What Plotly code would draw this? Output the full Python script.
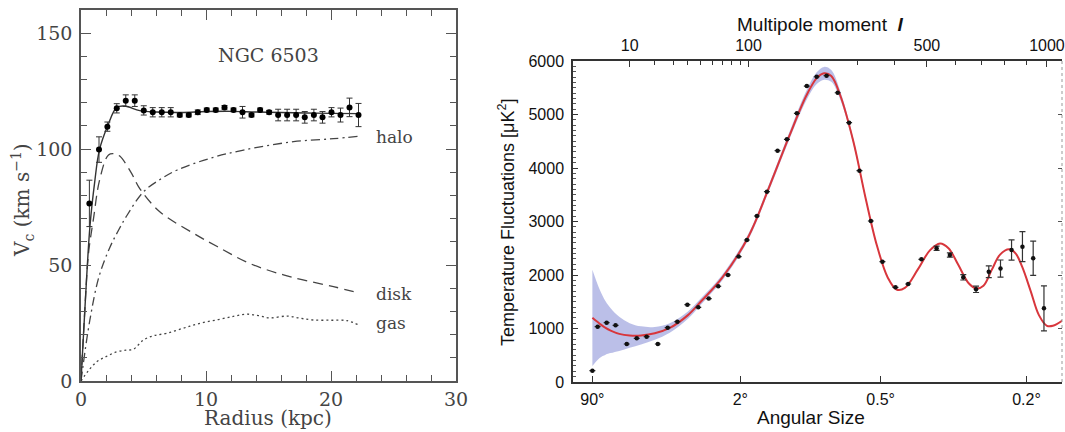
import numpy as np
import plotly.graph_objects as go

W, H = 1065, 432

# ---------------- Left panel: NGC 6503 rotation curve ----------------
radius_pts = [0.67, 1.44, 2.11, 2.86, 3.58, 4.30, 5.02, 5.74, 6.46, 7.18, 7.90, 8.62, 9.34,
              10.06, 10.78, 11.48, 12.20, 12.92, 13.64, 14.33, 15.05, 15.77, 16.49, 17.21,
              17.90, 18.63, 19.32, 20.04, 20.76, 21.48, 22.20]
vel_pts = [76.6, 99.8, 109.7, 117.6, 120.9, 120.9, 116.7, 115.9, 115.9, 115.9, 114.7, 114.7,
           115.9, 116.9, 116.9, 118.0, 116.9, 115.9, 114.7, 116.9, 115.9, 114.7, 114.7, 114.7,
           113.7, 114.7, 113.7, 115.9, 114.7, 118.0, 114.7]
vel_err = [10, 5.5, 2, 2, 2.5, 2.5, 2, 2, 2, 2, 0.8, 0.8, 1, 0.8, 0.8, 0.8, 0.8, 2.5, 0.8, 0.8,
           0.8, 2.5, 2.5, 2.5, 2.5, 2.5, 2.5, 2, 3, 4, 5]

r_total = [0, 0.35, 0.72, 1.1, 1.47, 2.13, 2.86, 3.5, 4.7, 6, 8, 10, 12, 14, 16, 18, 20, 22.2]
v_total = [0, 35, 67, 86, 99.6, 110, 118, 118.6, 116.6, 116, 115.8, 116.2, 116.3, 116, 115.8,
           115.6, 115.4, 115.3]

r_disk = [0, 0.3, 0.6, 1.0, 1.5, 2.2, 2.7, 3.1, 4.0, 4.7, 6.3, 9.0, 10.9, 13.5, 16.7, 20.2, 22.2]
v_disk = [0, 30, 55, 70, 87, 97.5, 98, 97, 90, 83, 73, 63.7, 58, 50.7, 45, 40.7, 38]

r_halo = [0, 0.7, 1.44, 2.3, 3.0, 3.7, 5.0, 6.5, 7.7, 10.3, 13, 17, 20.2, 22.2]
v_halo = [0, 26, 45, 57.5, 65, 71.6, 81.6, 87.5, 91, 96, 99.6, 103.2, 104.5, 105.5]

r_gas = [0, 0.6, 1.26, 2.0, 2.86, 3.6, 4.19, 4.99, 5.8, 6.86, 8.2, 9.53, 11.0, 12.3, 13.3,
         14.2, 15.1, 16.5, 17.6, 18.6, 20.0, 21.3, 22.2]
v_gas = [0, 4.5, 8.3, 10.5, 12.6, 13.3, 13.7, 17.7, 19.5, 20.6, 22.8, 24.9, 26.5, 28, 28.8,
         28.2, 27.2, 28, 27, 26.3, 26.2, 26, 24.2]

# ---------------- Right panel: CMB power spectrum ----------------
ell_pts = [2, 2.7, 4.2, 6.1, 9.1, 12.4, 16.3, 21.5, 26.8, 32.7, 39.6, 48, 57, 66, 76, 88, 98,
           111, 125, 141, 156, 173, 191, 210, 230, 254, 280, 305, 334, 365, 402, 440, 482,
           533, 580, 630, 680, 732, 782, 831, 881, 932, 985]
cl_pts = [211, 1034, 1108, 1059, 710, 816, 847, 710, 1015, 1127, 1445, 1396, 1560, 1790, 2000,
          2344, 2654, 3103, 3557, 4323, 4536, 5022, 5532, 5706, 5725, 5407, 4847, 3950, 3009,
          2249, 1770, 1832, 2293, 2499, 2374, 1957, 1733, 2061, 2120, 2467, 2529, 2312, 1377]
cl_err = [0, 0, 0, 0, 0, 0, 0, 0, 0, 0, 0, 0, 0, 0, 0, 0, 0, 0, 0, 0, 0, 0, 0, 0, 0, 0, 0, 0,
          0, 0, 0, 0, 0, 40, 40, 50, 60, 110, 160, 190, 280, 320, 420]

ell_model = [2, 3, 4, 5, 7, 10, 14, 20, 28, 40, 50, 70, 100, 130, 160, 190, 210, 225, 240, 260,
             290, 320, 350, 380, 405, 430, 470, 510, 545, 575, 610, 650, 680, 710, 745, 780,
             820, 850, 880, 920, 960, 1000, 1030, 1080]
cl_model = [1200, 1090, 1010, 960, 900, 870, 870, 910, 1010, 1250, 1500, 1950, 2720, 3700, 4600,
            5350, 5680, 5770, 5720, 5350, 4500, 3450, 2550, 1950, 1730, 1760, 2100, 2460, 2590,
            2500, 2200, 1850, 1750, 1800, 2100, 2380, 2480, 2400, 2150, 1700, 1250, 1050, 1050,
            1150]
band_halfwidth = [900, 640, 500, 420, 320, 230, 170, 120, 90, 70, 60, 55, 55, 60, 70, 90, 110,
                  120, 110, 80, 50, 30, 20] + [0] * 21

angle_labels_deg = [90, 2, 0.5, 0.2]
angle_ticktext = ["90°", "2°", "0.5°", "0.2°"]
top_ell_major = [10, 100, 500, 1000]
top_ell_minor = [20, 30, 40, 50, 60, 70, 80, 90, 200, 300, 400, 600, 700, 800, 900]


def ell_axis(l):
    """Horizontal scale of the CMB plot: linear in ell**0.4."""
    return np.asarray(l, dtype=float) ** 0.4


U_RANGE = [0.70, 16.33]

fig = go.Figure()

GRAY = "#444"
fig.add_trace(go.Scatter(x=r_gas, y=v_gas, mode="lines",
                         line=dict(color=GRAY, width=1.3, dash="2px,3px", shape="spline"),
                         xaxis="x", yaxis="y"))
fig.add_trace(go.Scatter(x=r_halo, y=v_halo, mode="lines",
                         line=dict(color=GRAY, width=1.3, dash="9px,4px,2px,4px", shape="spline"),
                         xaxis="x", yaxis="y"))
fig.add_trace(go.Scatter(x=r_disk, y=v_disk, mode="lines",
                         line=dict(color=GRAY, width=1.3, dash="10px,6px", shape="spline"),
                         xaxis="x", yaxis="y"))
fig.add_trace(go.Scatter(x=r_total, y=v_total, mode="lines",
                         line=dict(color="#333", width=1.4, shape="spline"), xaxis="x", yaxis="y"))
fig.add_trace(go.Scatter(x=radius_pts, y=vel_pts, mode="markers",
                         marker=dict(color="black", size=6),
                         error_y=dict(type="data", array=vel_err, color="#333", thickness=1, width=3),
                         xaxis="x", yaxis="y"))

u_model = ell_axis(ell_model)
cl_model_arr = np.array(cl_model, dtype=float)
hw = np.array(band_halfwidth, dtype=float)
fig.add_trace(go.Scatter(x=u_model, y=cl_model_arr - hw, mode="lines",
                         line=dict(width=0, shape="spline"),
                         xaxis="x2", yaxis="y2", hoverinfo="skip"))
fig.add_trace(go.Scatter(x=u_model, y=cl_model_arr + hw, mode="lines",
                         line=dict(width=0, shape="spline"),
                         fill="tonexty", fillcolor="rgba(120,128,210,0.5)",
                         xaxis="x2", yaxis="y2", hoverinfo="skip"))
fig.add_trace(go.Scatter(x=u_model, y=cl_model, mode="lines",
                         line=dict(color="#d8363c", width=2, shape="spline"),
                         xaxis="x2", yaxis="y2"))
fig.add_trace(go.Scatter(x=ell_axis(ell_pts), y=cl_pts, mode="markers",
                         marker=dict(color="#111", size=4.5),
                         error_y=dict(type="data", array=cl_err, color="#333", thickness=1.2, width=3),
                         xaxis="x2", yaxis="y2"))
# invisible anchors for overlay axes
fig.add_trace(go.Scatter(x=ell_axis([10, 1000]), y=[0, 0], mode="markers", marker=dict(opacity=0),
                         xaxis="x3", yaxis="y2", hoverinfo="skip"))
fig.add_trace(go.Scatter(x=ell_axis([10, 1000]), y=[0, 0], mode="markers", marker=dict(opacity=0),
                         xaxis="x2", yaxis="y3", hoverinfo="skip"))
fig.add_trace(go.Scatter(x=[0, 30], y=[0, 0], mode="markers", marker=dict(opacity=0),
                         xaxis="x4", yaxis="y4", hoverinfo="skip"))

serif = dict(family="DejaVu Serif", size=19, color="#444")
sans = dict(family="Liberation Sans", size=16, color="#111")

left_common = dict(showline=True, linecolor="#555", linewidth=1.5,
                   ticks="inside", ticklen=10, tickwidth=1.2, tickcolor="#555",
                   showgrid=False, zeroline=False, tickfont=serif, automargin=False)
left_x = dict(range=[0, 30], tick0=0, dtick=10,
              minor=dict(dtick=2, ticks="inside", ticklen=6, tickwidth=1.2, tickcolor="#555"))
left_y = dict(range=[0, 160], tick0=0, dtick=50,
              minor=dict(dtick=10, ticks="inside", ticklen=6, tickwidth=1.2, tickcolor="#555"))
LX = [81 / W, 456 / W]
LY = [1 - 381 / H, 1 - 10 / H]

fig.update_layout(
    width=W, height=H, autosize=False,
    margin=dict(l=0, r=0, t=0, b=0, autoexpand=False),
    paper_bgcolor="white", plot_bgcolor="white",
    showlegend=False,
    xaxis=dict(domain=LX, anchor="y", ticklabelstandoff=0, **left_x, **left_common),
    yaxis=dict(domain=LY, anchor="x", ticklabelstandoff=3, **left_y, **left_common),
    xaxis4=dict(overlaying="x", anchor="y", side="top", showticklabels=False,
                **left_x, **left_common),
    yaxis4=dict(overlaying="y", anchor="x", side="right", showticklabels=False,
                **left_y, **left_common),
    xaxis2=dict(domain=[573 / W, 1062 / W], range=U_RANGE, anchor="y2",
                tickmode="array", tickvals=ell_axis([180 / a for a in angle_labels_deg]),
                ticktext=angle_ticktext, ticks="inside", ticklen=6, tickwidth=1.2, tickcolor="#333",
                showline=True, linecolor="#333", linewidth=1.5, showgrid=False, zeroline=False,
                tickfont=sans, automargin=False, ticklabelstandoff=2),
    xaxis3=dict(overlaying="x2", anchor="y2", side="top", range=U_RANGE,
                tickmode="array", tickvals=ell_axis(top_ell_major),
                ticktext=[str(v) for v in top_ell_major], ticks="inside", ticklen=6, tickwidth=1.2,
                tickcolor="#333",
                minor=dict(tickmode="array", tickvals=ell_axis(top_ell_minor), ticks="inside",
                           ticklen=4, tickcolor="#333"),
                showline=True, linecolor="#333", linewidth=1.5, showgrid=False, zeroline=False,
                tickfont=sans, automargin=False, ticklabelstandoff=2),
    yaxis2=dict(domain=[1 - 382 / H, 1 - 61 / H], range=[0, 6000], anchor="x2", tick0=0, dtick=1000,
                ticks="inside", ticklen=5, tickwidth=1.2, tickcolor="#333",
                minor=dict(dtick=100, ticks="inside", ticklen=3, tickcolor="#555"),
                showline=True, linecolor="#333", linewidth=1.5, showgrid=False, zeroline=False,
                tickfont=sans, ticklabelstandoff=4, automargin=False),
    yaxis3=dict(overlaying="y2", anchor="x2", side="right", range=[0, 6000],
                tickmode="array", tickvals=[1000, 2000, 3000, 4000, 5000],
                ticks="inside", ticklen=4, tickcolor="#555", showticklabels=False,
                showline=False, showgrid=False, zeroline=False, automargin=False),
)

fig.add_shape(type="line", xref="paper", yref="paper", x0=1062 / W, x1=1062 / W,
              y0=1 - 61 / H, y1=1 - 382 / H, line=dict(color="#999", width=1, dash="dot"))


def ann(text, x, y, font, **kw):
    fig.add_annotation(text=text, xref="paper", yref="paper", x=x / W, y=1 - y / H,
                       showarrow=False, font=font, **kw)


serif_t = dict(family="DejaVu Serif", size=20, color="#444")
ann("Radius (kpc)", 268, 418, serif_t, xanchor="center", yanchor="middle")
ann("V<sub>c</sub> (km s<sup>−1</sup>)", 22, 200, serif_t, xanchor="center", yanchor="middle",
    textangle=-90)
ann("NGC 6503", 268, 55, dict(family="DejaVu Serif", size=19, color="#444"),
    xanchor="center", yanchor="middle")
lab = dict(family="DejaVu Serif", size=17, color="#444")
ann("halo", 374, 137, lab, xanchor="left", yanchor="middle")
ann("disk", 374, 294, lab, xanchor="left", yanchor="middle")
ann("gas", 374, 323, lab, xanchor="left", yanchor="middle")

sans_t = dict(family="Liberation Sans", size=19, color="#111")
ann("Multipole moment  <b><i>l</i></b>", 820, 25, sans_t, xanchor="center", yanchor="middle")
ann("Angular Size", 811, 417, sans_t, xanchor="center", yanchor="middle")
ann("Temperature Fluctuations [μK<sup>2</sup>]", 507, 222, dict(family="Liberation Sans", size=18,
    color="#111"), xanchor="center", yanchor="middle", textangle=-90)

fig.write_html("out.html", config={"displayModeBar": False},
               post_script="document.body.style.margin='0px';document.body.style.padding='0px';")
